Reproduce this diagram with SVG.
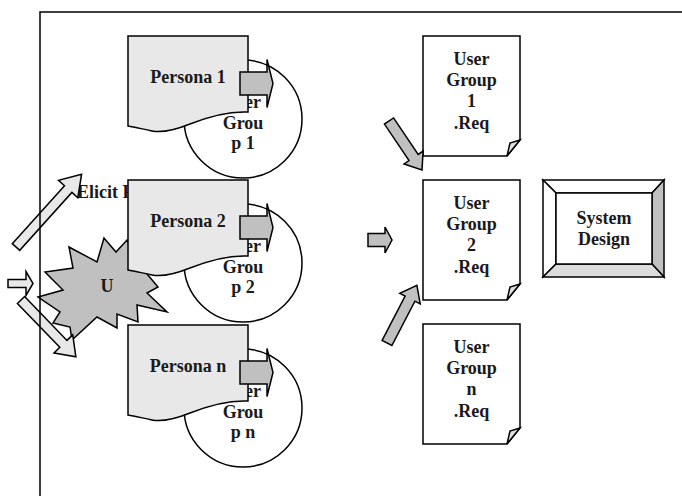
<svg xmlns="http://www.w3.org/2000/svg" xmlns:xlink="http://www.w3.org/1999/xlink" width="682" height="496" viewBox="0 0 682 496">
<style>
text{font-family:"Liberation Serif","Times New Roman",serif;font-weight:bold;font-size:18px;fill:#1a1a1a;text-anchor:middle}
.ln{stroke:#000;stroke-width:1.5;stroke-linejoin:miter}
.pers{fill:#e8e8e8}
.circ{fill:#fff}
.doc{fill:#fff}
.grey{fill:#c0c0c0}
.light{fill:#e8e8e8}
.frame{fill:none;stroke:#000;stroke-width:1.5}
</style>
<defs>
<path id="persShape" d="M128,36 H248 V112 C228,111 210,116 190,124 C175,130 162,133 152,131 C142,129 135,127 128,126 Z"/>
<path id="docShape" d="M423,36 H520 V140 L507,156 H423 Z"/>
<path id="docFold" d="M507,156 L510,143 L520,140 Z"/>
<path id="pArrow" d="M0,-11.5 L27,-11.5 L27,-24 L33,0 L27,24 L27,11.5 L0,11.5 Z"/>
</defs>
<rect width="682" height="496" fill="#fff"/>

<g id="starburst">
<polygon class="ln grey" points="38,297 63,290 45,272 73,268 69,247 97,262 104,238 116,252 127,240 137,262 158,287 147,293 167,312 137,305 138,322 117,314 117,328 97,317 72,340 70,327 53,323 60,312"/>
<text x="107" y="292">U</text>
</g>

<g id="elicit-label">
<text x="77" y="198" style="text-anchor:start">Elicit R</text>
</g>

<g id="group1">
<circle class="ln circ" cx="243" cy="119" r="59"/>
<text x="243" y="107.5">User</text>
<text x="243" y="128.5">Grou</text>
<text x="243" y="149">p 1</text>
</g>
<g id="persona1">
<use href="#persShape" class="ln pers"/>
<text x="188" y="83">Persona 1</text>
</g>

<g id="group2">
<circle class="ln circ" cx="243" cy="263" r="59"/>
<text x="243" y="251.5">User</text>
<text x="243" y="272.5">Grou</text>
<text x="243" y="293">p 2</text>
</g>
<g id="persona2">
<use href="#persShape" class="ln pers" transform="translate(0,144)"/>
<text x="188" y="227">Persona 2</text>
</g>

<g id="groupn">
<circle class="ln circ" cx="243" cy="408" r="59"/>
<text x="243" y="396.5">User</text>
<text x="243" y="417.5">Grou</text>
<text x="243" y="438">p n</text>
</g>
<g id="personan">
<use href="#persShape" class="ln pers" transform="translate(0,289)"/>
<text x="188" y="372">Persona n</text>
</g>

<g id="req1">
<use href="#docShape" class="ln doc"/>
<use href="#docFold" class="ln" fill="#e0e0e0"/>
<text x="471.5" y="65">User</text>
<text x="471.5" y="86">Group</text>
<text x="471.5" y="107">1</text>
<text x="471.5" y="129">.Req</text>
</g>
<g id="req2">
<use href="#docShape" class="ln doc" transform="translate(0,144)"/>
<use href="#docFold" class="ln" fill="#e0e0e0" transform="translate(0,144)"/>
<text x="471.5" y="209">User</text>
<text x="471.5" y="230">Group</text>
<text x="471.5" y="251">2</text>
<text x="471.5" y="273">.Req</text>
</g>
<g id="reqn">
<use href="#docShape" class="ln doc" transform="translate(0,288)"/>
<use href="#docFold" class="ln" fill="#e0e0e0" transform="translate(0,288)"/>
<text x="471.5" y="353">User</text>
<text x="471.5" y="374">Group</text>
<text x="471.5" y="395">n</text>
<text x="471.5" y="417">.Req</text>
</g>

<g id="system-design">
<polygon class="ln" fill="#fff" points="543,180 664,180 652,193 556,193"/>
<polygon class="ln" fill="#fff" points="543,180 556,193 556,264 543,277"/>
<polygon class="ln" fill="#c0c0c0" points="664,180 664,277 652,264 652,193"/>
<polygon class="ln" fill="#dcdcdc" points="543,277 556,264 652,264 664,277"/>
<rect class="ln" fill="#fff" x="556" y="193" width="96" height="71"/>
<text x="604" y="224">System</text>
<text x="604" y="245">Design</text>
</g>

<g id="connectors">
<path class="ln light" transform="translate(16,247) rotate(-48)" d="M0,-5 L78,-5 L78,-13 L98,0 L78,13 L78,5 L0,5 Z"/>
<path class="ln light" transform="translate(21,300) rotate(46)" d="M0,-5 L61,-5 L61,-13 L79,0 L61,13 L61,5 L0,5 Z"/>
<path class="ln light" transform="translate(8,283.5)" d="M0,-4 L18,-4 L18,-12 L25,0 L18,12 L18,4 L0,4 Z"/>
<use href="#pArrow" class="ln grey" transform="translate(240,83.5)"/>
<use href="#pArrow" class="ln grey" transform="translate(240,227.5)"/>
<use href="#pArrow" class="ln grey" transform="translate(240,372.5)"/>
<path class="ln grey" transform="translate(389,121) rotate(56)" d="M0,-5.5 L44,-5.5 L44,-11.5 L59,0 L44,11.5 L44,5.5 L0,5.5 Z"/>
<path class="ln grey" transform="translate(368,240)" d="M0,-6.5 L17,-6.5 L17,-13 L24,0 L17,13 L17,6.5 L0,6.5 Z"/>
<path class="ln grey" transform="translate(387,343) rotate(-62.6)" d="M0,-5.5 L50,-5.5 L50,-11.5 L65,0 L50,11.5 L50,5.5 L0,5.5 Z"/>
</g>

<rect class="frame" x="40" y="12" width="660" height="500"/>
</svg>
